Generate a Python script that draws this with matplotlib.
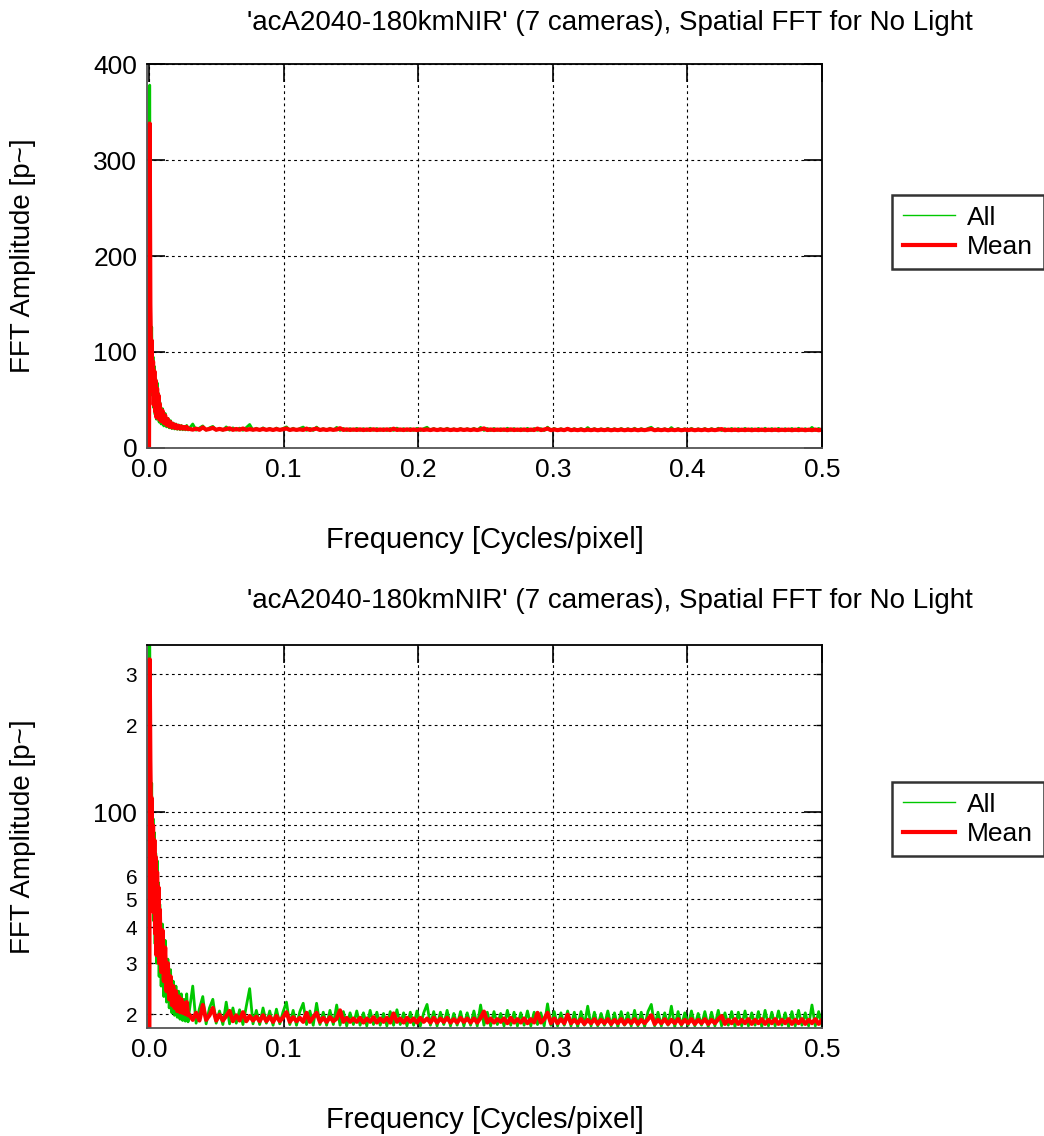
import numpy as np
import matplotlib
matplotlib.use("Agg")
import matplotlib.pyplot as plt
from matplotlib.ticker import LogLocator, FuncFormatter, FixedLocator

plt.rcParams['font.family'] = ['Liberation Sans', 'DejaVu Sans']

title = "'acA2040-180kmNIR' (7 cameras), Spatial FFT for No Light"
xlabel = "Frequency [Cycles/pixel]"
ylabel = "FFT Amplitude [p~]"
legend_labels = ["All", "Mean"]

# low frequency part
f_low = [0.0, 0.0005, 0.001, 0.0015, 0.002, 0.0025, 0.003, 0.0035, 0.004, 0.0045,
         0.005, 0.0055, 0.006, 0.0065, 0.007, 0.0075, 0.008, 0.009, 0.010, 0.011,
         0.012, 0.013, 0.014, 0.015, 0.016, 0.017, 0.018, 0.019, 0.020, 0.021,
         0.022, 0.023, 0.024, 0.025, 0.026, 0.027, 0.028, 0.029]
all_low = [0.5, 378, 170, 90, 126, 55, 95, 42, 85, 35,
           72, 30, 68, 31, 57, 27, 48, 25, 41, 23,
           36, 22, 31, 21, 28.5, 20.2, 26, 19.8, 25, 19.5,
           24, 19.2, 23.5, 19.0, 22.5, 18.9, 23.5, 18.8]
mean_low = [0.5, 338, 150, 95, 112, 60, 90, 45, 80, 38,
            70, 32, 62, 35, 55, 30, 46, 28, 39, 26,
            34, 24, 30, 22.5, 27, 21.5, 25, 21, 24, 20.5,
            23, 20.3, 22.5, 20.2, 21.8, 20.0, 22.0, 19.8]

# flat part, 0.03 .. 0.5
all_flat = [
    20.6, 25.0, 18.6, 20.9, 23.0, 18.5, 21.0, 22.5, 18.6, 20.5,
    18.4, 22.0, 18.5, 21.0, 18.6, 20.7, 18.4, 21.3, 24.5, 18.5,
    20.6, 18.4, 21.0, 18.6, 20.5, 18.3, 20.8, 18.5, 20.4, 22.0,
    18.4, 20.6, 18.3, 20.4, 21.8, 18.4, 20.5, 18.3, 21.8, 18.4,
    20.3, 18.3, 20.6, 18.4, 21.5, 18.3, 20.4, 18.2, 20.2, 18.4,
    20.5, 18.3, 20.2, 18.2, 20.6, 18.4, 20.3, 18.3, 20.1, 18.2,
    20.4, 18.3, 20.7, 18.4, 20.2, 18.2, 20.3, 18.3, 20.5, 18.2,
    20.2, 21.6, 18.3, 20.4, 18.2, 20.3, 18.4, 20.6, 18.2, 20.1,
    18.3, 20.4, 18.2, 20.2, 18.3, 20.5, 18.2, 21.5, 18.3, 20.3,
    18.2, 20.4, 18.4, 20.1, 18.2, 20.6, 18.3, 20.3, 18.2, 20.2,
    18.3, 20.5, 18.2, 20.3, 18.4, 20.2, 18.2, 21.7, 18.3, 20.4,
    18.2, 20.2, 18.3, 20.5, 18.2, 20.3, 18.1, 20.4, 18.3, 21.3,
    18.2, 20.3, 18.2, 20.1, 18.3, 20.5, 18.2, 20.2, 18.1, 20.4,
    18.3, 20.2, 18.2, 20.6, 18.2, 20.3, 18.1, 20.4, 21.6, 18.2,
    20.3, 18.2, 20.2, 18.3, 21.3, 18.1, 20.4, 18.2, 20.2, 18.3,
    20.5, 18.2, 20.1, 18.3, 20.4, 18.1, 20.3, 18.2, 20.6, 18.2,
    20.2, 18.3, 20.4, 18.1, 20.3, 18.2, 20.5, 18.2, 20.2, 18.3,
    20.4, 18.1, 20.6, 18.2, 20.3, 18.2, 20.5, 18.3, 20.2, 18.1,
    20.4, 18.2, 20.6, 18.3, 20.2, 18.2, 21.5, 18.2, 20.4, 18.3]
mean_flat = [
    19.9, 19.1, 20.2, 19.0, 21.5, 19.1, 19.8, 21.0, 19.0, 19.9,
    19.0, 19.7, 20.5, 18.9, 19.8, 19.0, 20.3, 18.9, 19.7, 19.0,
    19.6, 18.9, 19.8, 18.9, 19.6, 18.8, 19.7, 18.9, 19.5, 20.3,
    18.8, 19.5, 18.9, 19.4, 18.8, 20.2, 18.8, 19.5, 20.2, 18.8,
    19.4, 18.8, 19.5, 18.9, 19.3, 20.6, 18.8, 19.4, 18.8, 19.3,
    18.8, 19.4, 18.7, 19.3, 18.8, 19.5, 18.7, 19.3, 18.8, 19.4,
    18.7, 20.1, 18.8, 19.3, 18.7, 19.4, 18.8, 19.3, 18.7, 19.4,
    18.8, 19.3, 18.7, 19.4, 18.7, 19.3, 18.8, 19.4, 18.7, 19.2,
    18.7, 19.4, 18.8, 19.3, 18.7, 19.3, 18.7, 19.4, 20.4, 18.7,
    19.3, 18.7, 19.2, 18.8, 19.3, 18.6, 19.4, 18.7, 19.2, 18.7,
    19.3, 18.6, 19.2, 18.7, 20.2, 18.7, 19.2, 20.2, 18.6, 19.3,
    18.6, 19.2, 18.6, 19.9, 18.6, 19.1, 18.6, 19.2, 18.5, 19.1,
    18.6, 19.2, 18.5, 19.1, 18.6, 19.2, 18.5, 19.1, 18.6, 19.2,
    18.5, 19.1, 18.6, 19.2, 18.5, 19.1, 18.6, 19.2, 19.8, 18.5,
    19.1, 18.6, 19.2, 18.5, 19.1, 18.6, 19.2, 18.5, 19.1, 18.6,
    19.2, 18.5, 19.1, 18.6, 19.2, 18.5, 19.1, 18.6, 19.2, 19.7,
    18.5, 19.1, 18.6, 19.2, 18.5, 19.1, 18.6, 19.2, 18.5, 19.1,
    18.6, 19.2, 18.5, 19.1, 18.6, 19.2, 18.5, 19.1, 18.6, 19.2,
    18.5, 19.1, 18.6, 19.2, 18.5, 19.1, 18.6, 19.2, 18.5, 19.1]

freq = np.concatenate([f_low, np.linspace(0.03, 0.5, len(all_flat))])
amp_all = np.concatenate([all_low, all_flat])
amp_mean = np.concatenate([mean_low, mean_flat])

xticks = [0.0, 0.1, 0.2, 0.3, 0.4, 0.5]
lin_yticks = [0, 100, 200, 300, 400]

W, H = 1044, 1136
fig = plt.figure(figsize=(W / 100, H / 100), dpi=100)
ax1 = fig.add_axes([147 / W, 1 - 448 / H, 675 / W, 384 / H])
ax2 = fig.add_axes([147 / W, 1 - 1028 / H, 675 / W, 383 / H])

grid_kw = dict(color='black', linestyle=(0, (2.5, 3)), linewidth=0.8)


def style(ax, leg_top):
    ax.plot(freq, amp_all, color='#00c800', linewidth=2.0, label=legend_labels[0])
    ax.plot(freq, amp_mean, color='#ff0000', linewidth=3.0, label=legend_labels[1])
    ax.set_xlim(-0.0015, 0.5)
    ax.set_xticks(xticks)
    ax.set_xticklabels([f"{t:.1f}" for t in xticks])
    ax.tick_params(which='major', direction='in', length=13, width=1.2,
                   top=True, right=True, labelsize=19, pad=7)
    ax.tick_params(which='minor', direction='in', length=4, width=1.0,
                   top=True, right=True, labelsize=15, pad=7)
    ax.grid(True, which='major', **grid_kw)
    for s in ax.spines.values():
        s.set_linewidth(1.3)
    ax.spines['left'].set_color('#555555')
    ax.spines['bottom'].set_color('#555555')
    ax.set_xlabel(xlabel, fontsize=21)
    ax.xaxis.set_label_coords(0.5, -92 / 384)
    ax.xaxis.label.set_va('center')
    ax.set_ylabel(ylabel, fontsize=20)
    ax.yaxis.set_label_coords(-124 / 675, 0.5)
    ax.yaxis.label.set_va('center')
    leg = ax.legend(loc='upper left', bbox_to_anchor=(745 / 675, leg_top),
                    borderaxespad=0, fontsize=19, frameon=True, fancybox=False,
                    handlelength=2.0, handletextpad=0.45, borderpad=0.4,
                    labelspacing=0.2)
    leg.get_frame().set_edgecolor('black')
    leg.get_frame().set_linewidth(1.8)
    leg.legend_handles[0].set_linewidth(1.0)


style(ax1, (448 - 195) / 384)
ax1.set_ylim(0, 400)
ax1.set_yticks(lin_yticks)

style(ax2, (1028 - 782) / 383)
ax2.set_yscale('log')
ax2.set_ylim(17.9, 379)
ax2.yaxis.set_major_locator(FixedLocator([100]))
ax2.yaxis.set_major_formatter(FuncFormatter(lambda v, p: f"{v:.0f}"))
ax2.yaxis.set_minor_locator(LogLocator(base=10, subs=np.arange(2, 10)))


def minor_fmt(v, pos):
    lead = int(round(v / 10 ** np.floor(np.log10(v))))
    return str(lead) if lead in (2, 3, 4, 5, 6) else ''


ax2.yaxis.set_minor_formatter(FuncFormatter(minor_fmt))
ax2.grid(True, which='minor', axis='y', **grid_kw)

fig.text(610 / W, 1 - 23 / H, title, ha='center', va='center', fontsize=20)
fig.text(610 / W, 1 - 601 / H, title, ha='center', va='center', fontsize=20)

fig.savefig("out.png", dpi=100)
